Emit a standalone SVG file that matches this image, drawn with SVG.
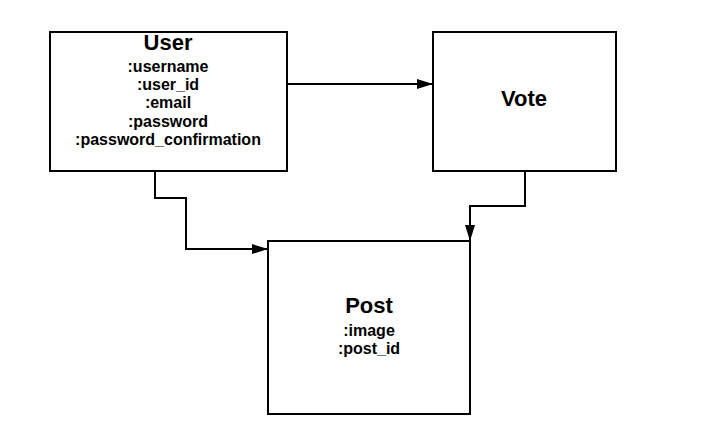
<svg xmlns="http://www.w3.org/2000/svg" width="702" height="448" viewBox="0 0 702 448">
<style>
.box{fill:#fff;stroke:#000;stroke-width:2}
.title{font-family:"Liberation Sans",Arial,sans-serif;font-weight:bold;font-size:22px;text-anchor:middle;fill:#000}
.attr{font-family:"Liberation Sans",Arial,sans-serif;font-weight:bold;font-size:16px;text-anchor:middle;fill:#000}
.conn{fill:none;stroke:#000;stroke-width:2}
</style>
<defs>
<marker id="arr" viewBox="0 0 16 10" refX="16" refY="5" markerWidth="16" markerHeight="10" markerUnits="userSpaceOnUse" orient="auto">
<path d="M0,0 L16,5 L0,10 z" fill="#000"/>
</marker>
</defs>
<rect width="702" height="448" fill="#fff"/>
<g id="connectors">
<path class="conn" d="M287,84 H433" marker-end="url(#arr)"/>
<path class="conn" d="M155,171 V198 H186 V249 H268" marker-end="url(#arr)"/>
<path class="conn" d="M525,171 V206 H470 V241" marker-end="url(#arr)"/>
</g>
<g id="user">
<rect class="box" x="50" y="32" width="237" height="139"/>
<text class="title" x="168" y="50">User</text>
<text class="attr" x="168" y="72">:username</text>
<text class="attr" x="168" y="90">:user_id</text>
<text class="attr" x="168" y="108">:email</text>
<text class="attr" x="168" y="127">:password</text>
<text class="attr" x="168" y="145">:password_confirmation</text>
</g>
<g id="vote">
<rect class="box" x="433" y="32" width="183" height="139"/>
<text class="title" x="524" y="106">Vote</text>
</g>
<g id="post">
<rect class="box" x="268" y="241" width="202" height="173"/>
<text class="title" x="369" y="313">Post</text>
<text class="attr" x="369" y="336">:image</text>
<text class="attr" x="369" y="354">:post_id</text>
</g>
</svg>
